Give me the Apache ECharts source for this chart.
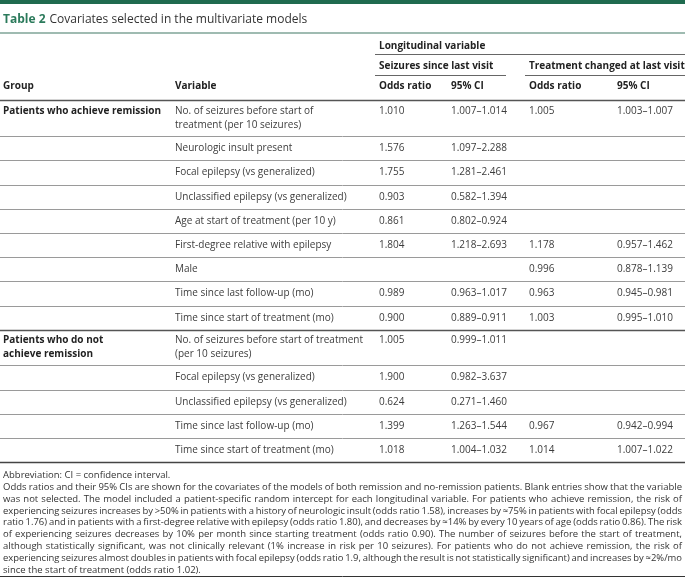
<!DOCTYPE html>
<html><head><meta charset="utf-8">
<script src="https://cdn.jsdelivr.net/npm/echarts@6/dist/echarts.min.js"></script>
<style>html,body{margin:0;padding:0;background:#fff}#c{width:685px;height:578px}</style>
</head><body><div id="c"></div>
<script>
// ---------- data ----------
const titleLabel = 'Table 2';
const titleText = 'Covariates selected in the multivariate models';
const headerTop = 'Longitudinal variable';
const headerGroups = ['Seizures since last visit', 'Treatment changed at last visit'];
const headerCols = ['Group', 'Variable', 'Odds ratio', '95% CI', 'Odds ratio', '95% CI'];
const groups = ['Patients who achieve remission', '', '', '', '', '', '', '', '',
  'Patients who do not\nachieve remission', '', '', '', ''];
const variables = [
  'No. of seizures before start of\ntreatment (per 10 seizures)',
  'Neurologic insult present',
  'Focal epilepsy (vs generalized)',
  'Unclassified epilepsy (vs generalized)',
  'Age at start of treatment (per 10 y)',
  'First-degree relative with epilepsy',
  'Male',
  'Time since last follow-up (mo)',
  'Time since start of treatment (mo)',
  'No. of seizures before start of treatment\n(per 10 seizures)',
  'Focal epilepsy (vs generalized)',
  'Unclassified epilepsy (vs generalized)',
  'Time since last follow-up (mo)',
  'Time since start of treatment (mo)'
];
const seizOR  = [1.010, 1.576, 1.755, 0.903, 0.861, 1.804, null, 0.989, 0.900, 1.005, 1.900, 0.624, 1.399, 1.018];
const seizLo  = [1.007, 1.097, 1.281, 0.582, 0.802, 1.218, null, 0.963, 0.889, 0.999, 0.982, 0.271, 1.263, 1.004];
const seizHi  = [1.014, 2.288, 2.461, 1.394, 0.924, 2.693, null, 1.017, 0.911, 1.011, 3.637, 1.460, 1.544, 1.032];
const treatOR = [1.005, null, null, null, null, 1.178, 0.996, 0.963, 1.003, null, null, null, 0.967, 1.014];
const treatLo = [1.003, null, null, null, null, 0.957, 0.878, 0.945, 0.995, null, null, null, 0.942, 1.007];
const treatHi = [1.007, null, null, null, null, 1.462, 1.139, 0.981, 1.010, null, null, null, 0.994, 1.022];
const footnotes = [
  'Abbreviation: CI = confidence interval.',
  'Odds ratios and their 95% CIs are shown for the covariates of the models of both remission and no-remission patients. Blank entries show that the variable',
  'was not selected. The model included a patient-specific random intercept for each longitudinal variable. For patients who achieve remission, the risk of',
  'experiencing seizures increases by >50% in patients with a history of neurologic insult (odds ratio 1.58), increases by \u224875% in patients with focal epilepsy (odds',
  'ratio 1.76) and in patients with a first-degree relative with epilepsy (odds ratio 1.80), and decreases by \u224814% by every 10 years of age (odds ratio 0.86). The risk',
  'of experiencing seizures decreases by 10% per month since starting treatment (odds ratio 0.90). The number of seizures before the start of treatment,',
  'although statistically significant, was not clinically relevant (1% increase in risk per 10 seizures). For patients who do not achieve remission, the risk of',
  'experiencing seizures almost doubles in patients with focal epilepsy (odds ratio 1.9, although the result is not statistically significant) and increases by \u22482%/mo',
  'since the start of treatment (odds ratio 1.02).'
];

// ---------- layout ----------
const W = 685;
const FONT = '"Open Sans", "Noto Sans", sans-serif';
const colX = [3, 175, 379, 451, 529, 617];
const bodyTop = 100.5;
const singleRow = 24.2, extraLine = 11.5, LH = 14;
const TEXT = '#3c3c3c', DARK = '#222';

const fmt = v => v == null ? '' : v.toFixed(3);
const ci = (a, b) => (a == null ? '' : a.toFixed(3) + '\u2013' + b.toFixed(3));

const lineCount = i => Math.max(groups[i].split('\n').length, variables[i].split('\n').length);
const rowData = [];
let acc = 0;
variables.forEach((v, i) => {
  const h = singleRow + (lineCount(i) - 1) * extraLine;
  rowData.push([i, acc, acc + h]);
  acc += h;
});
const bodyH = acc;

const canvas = document.createElement('canvas');
const ctx = canvas.getContext('2d');
function measure(t, font) { ctx.font = font; return ctx.measureText(t).width; }

const graphics = [];
graphics.push({type: 'rect', shape: {x: 0, y: 0, width: W, height: 4}, style: {fill: '#1f6b4f'}, silent: true});
const tFontB = 'bold 12px ' + FONT, tFont = '12px ' + FONT;
graphics.push({type: 'text', style: {text: titleLabel, x: 3, y: 19.5, font: tFontB, fill: '#2b7a5b', align: 'left', verticalAlign: 'middle'}});
graphics.push({type: 'text', style: {text: titleText, x: 3 + measure(titleLabel, tFontB) + 4, y: 19.5, font: tFont, fill: '#333', align: 'left', verticalAlign: 'middle'}});
graphics.push({type: 'line', shape: {x1: 0, y1: 33, x2: W, y2: 33}, style: {stroke: '#7fa597', lineWidth: 1.5}});
const hFont = 'bold 10px ' + FONT;
const hText = (t, x, y) => ({type: 'text', style: {text: t, x: x, y: y, font: hFont, fill: DARK, align: 'left', verticalAlign: 'middle'}});
graphics.push(hText(headerTop, colX[2], 46));
graphics.push({type: 'line', shape: {x1: 375, y1: 54.5, x2: W, y2: 54.5}, style: {stroke: '#666', lineWidth: 1}});
graphics.push(hText(headerGroups[0], colX[2], 66));
graphics.push(hText(headerGroups[1], colX[4], 66));
graphics.push({type: 'line', shape: {x1: 375, y1: 75.5, x2: 506, y2: 75.5}, style: {stroke: '#666', lineWidth: 1}});
graphics.push({type: 'line', shape: {x1: 525, y1: 75.5, x2: W, y2: 75.5}, style: {stroke: '#666', lineWidth: 1}});
headerCols.forEach((t, c) => graphics.push(hText(t, colX[c], 86.5)));
graphics.push({type: 'line', shape: {x1: 0, y1: 100.5, x2: W, y2: 100.5}, style: {stroke: '#555', lineWidth: 1.5}});

// footnotes (justified)
const fSize = 9.5;
const fFont = fSize + 'px ' + FONT;
const fLeft = 3, fRight = 682, fTop = 475.5, fStep = 11.8;
footnotes.forEach((line, k) => {
  const y = fTop + k * fStep;
  const justify = k > 0 && k < footnotes.length - 1;
  if (!justify) {
    graphics.push({type: 'text', style: {text: line, x: fLeft, y: y, font: fFont, fill: '#333', align: 'left', verticalAlign: 'middle'}});
    return;
  }
  const words = line.split(' ');
  let widths = words.map(w => measure(w, fFont));
  let total = widths.reduce((a, b) => a + b, 0);
  const minGap = 1.8;
  let sx = 1;
  const avail = fRight - fLeft;
  if (total + minGap * (words.length - 1) > avail) {
    sx = (avail - minGap * (words.length - 1)) / total;
    widths = widths.map(w => w * sx);
    total = total * sx;
  }
  const gap = (avail - total) / (words.length - 1);
  let x = fLeft;
  words.forEach((w, j) => {
    graphics.push({type: 'text', x: x, y: y, scaleX: sx,
      style: {text: w, x: 0, y: 0, font: fFont, fill: '#333', align: 'left', verticalAlign: 'middle'}});
    x += widths[j] + gap;
  });
});
graphics.push({type: 'line', shape: {x1: 0, y1: 576.5, x2: W, y2: 576.5}, style: {stroke: '#333', lineWidth: 1}});

const chart = echarts.init(document.getElementById('c'), null, {renderer: 'canvas'});
chart.setOption({
  animation: false,
  backgroundColor: '#fff',
  grid: {left: 0, right: 0, top: bodyTop, height: bodyH},
  xAxis: {type: 'value', min: 0, max: W, show: false},
  yAxis: {type: 'value', min: 0, max: bodyH, inverse: true, show: false},
  graphic: graphics,
  series: [{
    type: 'custom',
    clip: false,
    data: rowData,
    renderItem: function (params, api) {
      const i = api.value(0);
      const top = api.coord([0, api.value(1)])[1];
      const bot = api.coord([0, api.value(2)])[1];
      const yc = (top + bot) / 2;
      const n = lineCount(i);
      const yFirst = yc - (n - 1) * LH / 2;
      const xs = colX.map(x => api.coord([x, 0])[0]);
      const cells = [groups[i], variables[i], fmt(seizOR[i]), ci(seizLo[i], seizHi[i]), fmt(treatOR[i]), ci(treatLo[i], treatHi[i])];
      const children = [];
      cells.forEach((t, c) => {
        if (!t) return;
        children.push({type: 'text', style: {text: t, x: xs[c], y: yFirst - LH / 2,
          font: (c === 0 ? 'bold ' : '') + '10px ' + FONT, lineHeight: LH,
          fill: c === 0 ? DARK : TEXT, align: 'left', verticalAlign: 'top'}});
      });
      const last = i === variables.length - 1;
      const groupEnd = i + 1 < groups.length && groups[i + 1] !== '';
      const yl = Math.round(bot) + 0.5;
      children.push({type: 'line', shape: {x1: api.coord([0, 0])[0], y1: yl, x2: api.coord([W, 0])[0], y2: yl},
        style: {stroke: last ? '#444' : (groupEnd ? '#555' : '#9a9a9a'), lineWidth: last || groupEnd ? 1.5 : 1}});
      return {type: 'group', children: children};
    }
  }]
});
</script></body></html>
